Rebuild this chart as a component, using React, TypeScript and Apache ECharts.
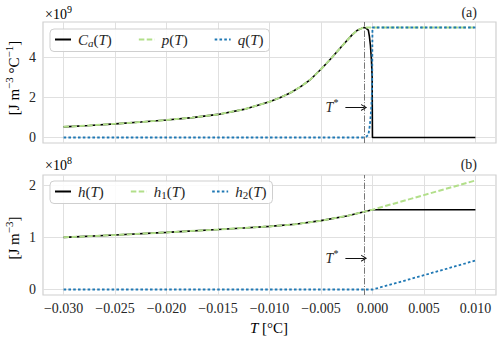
import React, { useEffect, useRef } from 'react';
import * as echarts from 'echarts';

// ---------- data (panel a, values in units of 1e9) ----------
const T_A = [-0.03, -0.0275, -0.025, -0.0225, -0.02, -0.0175, -0.015, -0.0125, -0.01, -0.009, -0.008, -0.007, -0.006, -0.005, -0.004, -0.003, -0.002, -0.0015, -0.001, -0.0008, -0.0006, -0.0004, -0.0003, -0.0002, -0.0001, -0.00003, 0.0, 0.01];
const CA = [0.53, 0.6, 0.68, 0.77, 0.87, 0.99, 1.15, 1.4, 1.78, 1.98, 2.22, 2.52, 2.9, 3.4, 3.95, 4.53, 5.1, 5.33, 5.45, 5.48, 5.44, 5.35, 5.05, 4.6, 3.87, 3.0, 0, 0];
const P = [0.53, 0.6, 0.68, 0.77, 0.87, 0.99, 1.15, 1.4, 1.78, 1.98, 2.22, 2.52, 2.9, 3.4, 3.95, 4.53, 5.1, 5.33, 5.45, 5.48, 5.48, 5.48, 5.48, 5.48, 5.48, 5.48, 5.48, 5.48];
const Q = [0, 0, 0, 0, 0, 0, 0, 0, 0, 0, 0, 0, 0, 0, 0, 0, 0, 0, 0, 0, 0.04, 0.13, 0.43, 0.88, 1.61, 2.48, 5.48, 5.48];

// ---------- data (panel b, values in units of 1e8) ----------
const T_B = [-0.03, -0.025, -0.02, -0.015, -0.0125, -0.01, -0.0075, -0.005, -0.0025, -0.0008, 0.0, 0.0025, 0.005, 0.0075, 0.01];
const H = [1.0, 1.045, 1.095, 1.15, 1.18, 1.21, 1.25, 1.32, 1.41, 1.49, 1.53, 1.53, 1.53, 1.53, 1.53];
const H1 = [1.0, 1.045, 1.095, 1.15, 1.18, 1.21, 1.25, 1.32, 1.41, 1.49, 1.53, 1.67, 1.81, 1.95, 2.09];
const H2 = [0, 0, 0, 0, 0, 0, 0, 0, 0, 0, 0, 0.135, 0.275, 0.415, 0.555];

// ---------- ticks / annotations ----------
const X_TICKS = [-0.03, -0.025, -0.02, -0.015, -0.01, -0.005, 0, 0.005, 0.01];
const YA_TICKS = [0, 2, 4];
const YB_TICKS = [0, 1, 2];
const T_STAR = -0.00081;
const ARROW_FROM = -0.00263;
const ARROW_Y_A = 1.5;
const ARROW_Y_B = 0.6;

const FONT = 'Liberation Serif';
const TXT = '#262626';
const BLACK = '#000000';
const GREEN = '#b2df8a';
const BLUE = '#1f78b4';
const GRID = '#e0e0e0';
const CHEVRON = 'path://M0,10 L5,0 L10,10 L8.4,10 L5,3.2 L1.6,10 Z';

const LABELS: Record<string, string> = {
  Ca: '{i|C}{sub|a}{n|(}{i|T}{n|)}',
  p: '{i|p}{n|(}{i|T}{n|)}',
  q: '{i|q}{n|(}{i|T}{n|)}',
  h: '{i|h}{n|(}{i|T}{n|)}',
  h1: '{i|h}{subn|1}{n|(}{i|T}{n|)}',
  h2: '{i|h}{subn|2}{n|(}{i|T}{n|)}',
};

const legendRich = {
  i: { fontFamily: FONT, fontStyle: 'italic', fontSize: 15, lineHeight: 18, color: TXT },
  n: { fontFamily: FONT, fontSize: 15, lineHeight: 18, color: TXT },
  sub: { fontFamily: FONT, fontStyle: 'italic', fontSize: 11, verticalAlign: 'bottom', color: TXT },
  subn: { fontFamily: FONT, fontSize: 11, verticalAlign: 'bottom', color: TXT },
};

const titleRich = {
  n: { fontFamily: FONT, fontSize: 15, lineHeight: 22, color: TXT },
  i: { fontFamily: FONT, fontStyle: 'italic', fontSize: 15, lineHeight: 22, color: TXT },
  sup: { fontFamily: FONT, fontSize: 11, verticalAlign: 'top', color: TXT },
};

const smallRich = {
  n: { fontFamily: FONT, fontSize: 14, lineHeight: 20, color: TXT },
  i: { fontFamily: FONT, fontStyle: 'italic', fontSize: 14, lineHeight: 20, color: TXT },
  sup: { fontFamily: FONT, fontSize: 10, verticalAlign: 'top', color: TXT },
};

function pairs(xs: number[], ys: number[]) {
  return xs.map((x, i) => [x, ys[i]]);
}

function starMarkLine(yArrow: number) {
  const arrowLabel = { show: true, position: 'start', distance: 7, formatter: '{i|T}{sup|*}', rich: smallRich };
  const arrowLine = { color: '#111', width: 1, type: 'solid' };
  return {
    silent: true,
    precision: 8,
    symbol: ['none', 'none'],
    label: { show: false },
    data: [
      { xAxis: T_STAR, lineStyle: { color: '#777', width: 1, type: [6.4, 1.6, 1, 1.6] } },
      [
        { coord: [ARROW_FROM, yArrow], symbol: 'none', lineStyle: arrowLine, label: arrowLabel },
        { coord: [T_STAR, yArrow], symbol: CHEVRON, symbolSize: [7, 6], lineStyle: arrowLine, label: arrowLabel },
      ],
    ],
  };
}

function lineSeries(name: string, xi: number, data: number[][], color: string, width: number, type: any, z: number, extra: any = {}) {
  return {
    name,
    type: 'line',
    xAxisIndex: xi,
    yAxisIndex: xi,
    data,
    symbol: 'none',
    showSymbol: false,
    color,
    lineStyle: { color, width, type },
    z,
    ...extra,
  };
}

function xAxisDef(gridIndex: number, showLabels: boolean) {
  return {
    type: 'value',
    gridIndex,
    min: -0.032,
    max: 0.012,
    axisLine: { show: false },
    axisTick: { show: false, customValues: X_TICKS },
    axisLabel: {
      show: showLabels,
      customValues: X_TICKS,
      margin: 6,
      fontFamily: FONT,
      fontSize: 14,
      color: TXT,
      formatter: (v: number) => (Math.abs(v) < 1e-12 ? '0.000' : v.toFixed(3).replace('-', '\u2212')),
    },
    splitLine: { show: true, lineStyle: { color: GRID, width: 1 } },
  };
}

function yAxisDef(gridIndex: number, min: number, max: number, ticks: number[]) {
  return {
    type: 'value',
    gridIndex,
    min,
    max,
    axisLine: { show: false },
    axisTick: { show: false, customValues: ticks },
    axisLabel: { customValues: ticks, margin: 7, fontFamily: FONT, fontSize: 14, color: TXT, formatter: (v: number) => String(v) },
    splitLine: { show: true, lineStyle: { color: GRID, width: 1 } },
  };
}

function legendDef(top: number, names: string[], gap: number) {
  return {
    data: names,
    left: 50,
    top,
    orient: 'horizontal',
    padding: [3, 6, 3, 4],
    itemGap: gap,
    itemWidth: 16,
    itemHeight: 10,
    itemStyle: { opacity: 0 },
    backgroundColor: 'rgba(255,255,255,0.85)',
    borderColor: '#cfcfcf',
    borderWidth: 1,
    borderRadius: 4,
    formatter: (name: string) => LABELS[name],
    textStyle: { fontFamily: FONT, rich: legendRich, padding: [0, 0, 0, 2] },
  };
}

export default function App() {
  const ref = useRef<HTMLDivElement>(null);
  useEffect(() => {
    if (!ref.current) return;
    const chart = echarts.init(ref.current, undefined, { renderer: 'svg' });
    chart.setOption({
      animation: false,
      backgroundColor: '#ffffff',
      textStyle: { fontFamily: FONT },
      grid: [
        { left: 43, right: 4, top: 22, height: 121, show: true, borderColor: '#d0d0d0', borderWidth: 1.2, backgroundColor: '#fff' },
        { left: 43, right: 4, top: 175, height: 120, show: true, borderColor: '#d0d0d0', borderWidth: 1.2, backgroundColor: '#fff' },
      ],
      xAxis: [xAxisDef(0, false), xAxisDef(1, true)],
      yAxis: [yAxisDef(0, -0.274, 5.754, YA_TICKS), yAxisDef(1, -0.105, 2.195, YB_TICKS)],
      legend: [legendDef(29, ['Ca', 'p', 'q'], 26), legendDef(181, ['h', 'h1', 'h2'], 26)],
      series: [
        lineSeries('Ca', 0, pairs(T_A, CA), BLACK, 1.6, 'solid', 2),
        lineSeries('p', 0, pairs(T_A, P), GREEN, 2, [5.5, 2.4], 3),
        lineSeries('q', 0, pairs(T_A, Q), BLUE, 1.8, [2.6, 2.2], 4, { markLine: starMarkLine(ARROW_Y_A) }),
        lineSeries('h', 1, pairs(T_B, H), BLACK, 1.6, 'solid', 2),
        lineSeries('h1', 1, pairs(T_B, H1), GREEN, 2, [5.5, 2.4], 3),
        lineSeries('h2', 1, pairs(T_B, H2), BLUE, 1.8, [2.6, 2.2], 4, { markLine: starMarkLine(ARROW_Y_B) }),
      ],
      graphic: [
        { type: 'text', x: 45, y: 4, style: { text: '{n|\u00d710}{sup|9}', rich: smallRich } },
        { type: 'text', x: 45, y: 155, style: { text: '{n|\u00d710}{sup|8}', rich: smallRich } },
        { type: 'text', x: 477, y: 12, style: { text: '(a)', fontFamily: FONT, fontSize: 14, fill: TXT, align: 'right', verticalAlign: 'middle' } },
        { type: 'text', x: 477, y: 164, style: { text: '(b)', fontFamily: FONT, fontSize: 14, fill: TXT, align: 'right', verticalAlign: 'middle' } },
        { type: 'text', x: 14, y: 78, rotation: Math.PI / 2, style: { text: '{n|[J m}{sup|\u22123}{n| \u00b0C}{sup|\u22121}{n|]}', rich: titleRich, align: 'center', verticalAlign: 'middle' } },
        { type: 'text', x: 14, y: 238, rotation: Math.PI / 2, style: { text: '{n|[J m}{sup|\u22123}{n|]}', rich: titleRich, align: 'center', verticalAlign: 'middle' } },
        { type: 'text', x: 269, y: 328, style: { text: '{i|T}{n| [\u00b0C]}', rich: titleRich, align: 'center', verticalAlign: 'middle' } },
      ],
    });
    return () => chart.dispose();
  }, []);
  return <div ref={ref} style={{ position: 'fixed', left: 0, top: 0, width: 500, height: 342 }} />;
}
